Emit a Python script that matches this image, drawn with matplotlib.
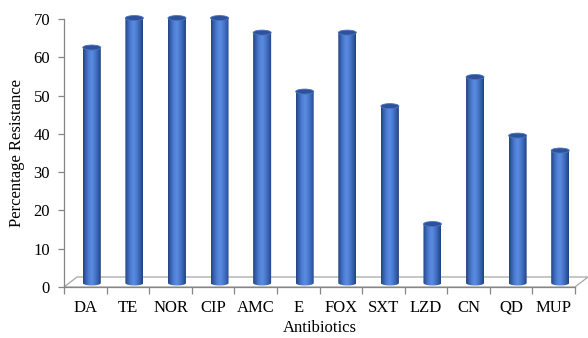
import numpy as np
import matplotlib
matplotlib.use("Agg")
import matplotlib.pyplot as plt
from matplotlib.patches import Polygon, Ellipse, PathPatch
from matplotlib.path import Path
from matplotlib.colors import LinearSegmentedColormap

categories = ["DA", "TE", "NOR", "CIP", "AMC", "E", "FOX", "SXT", "LZD", "CN", "QD", "MUP"]
values = [61.5, 69.2, 69.2, 69.2, 65.4, 50.0, 65.4, 46.2, 15.4, 53.8, 38.5, 34.6]
yticks = [0, 10, 20, 30, 40, 50, 60, 70]

plt.rcParams['font.family'] = ['Liberation Serif', 'DejaVu Serif']
FS = 12

W, H = 588, 338
fig = plt.figure(figsize=(W / 100, H / 100), dpi=100)
left, right, top, bottom = 64, 575, 19, 287
ax = fig.add_axes([left / W, 1 - bottom / H, (right - left) / W, (bottom - top) / H])
n = len(categories)
ax.set_xlim(-0.5, n - 0.5)
ax.set_ylim(0, 70)

pxx = (right - left) / n          # px per category
pxy = (bottom - top) / 70         # px per unit

# 3D depth offsets
dx_floor, dy_floor = 13 / pxx, 10 / pxy
bar_dx, bar_dy = 6.5 / pxx, 4 / pxy
bw = 18 / pxx
eh = 5 / pxy

# floor
floor = Polygon([(-0.5, 0), (n - 0.5, 0), (n - 0.5 + dx_floor, dy_floor), (-0.5 + dx_floor, dy_floor)],
                closed=True, facecolor="white", edgecolor="#A6A6A6", lw=0.9, clip_on=False, zorder=1)
ax.add_patch(floor)

cmap = LinearSegmentedColormap.from_list("cyl", ["#24427F", "#3A64B4", "#4F80D6", "#5A8CE0", "#4A78CC", "#3560AE", "#22407C"])
grad = np.linspace(0, 1, 200).reshape(1, -1)

x = np.arange(n)
for xi, v in zip(x, values):
    xc = xi + bar_dx
    b = bar_dy
    t = b + v
    x0, x1 = xc - bw / 2, xc + bw / 2
    tt = np.linspace(np.pi, 2 * np.pi, 40)
    arc = np.column_stack([xc + bw / 2 * np.cos(tt), b + eh / 2 * np.sin(tt)])
    verts = np.vstack([[x0, t], [x0, b], arc[1:-1], [x1, b], [x1, t], [x0, t]])
    codes = [Path.MOVETO] + [Path.LINETO] * (len(verts) - 2) + [Path.CLOSEPOLY]
    path = Path(verts, codes)
    pp = PathPatch(path, facecolor="none", edgecolor="none", zorder=3, clip_on=False)
    ax.add_patch(pp)
    im = ax.imshow(grad, cmap=cmap, extent=(x0, x1, b - eh, t), aspect="auto", zorder=3, interpolation="bilinear")
    im.set_clip_box(fig.bbox)
    im.set_clip_path(pp)
    ax.add_patch(Ellipse((xc, t), bw, eh, facecolor="#2D5299", edgecolor="#4A74C2", lw=0.6, zorder=4, clip_on=False))

ax.set_aspect("auto")
ax.set_xlim(-0.5, n - 0.5)
ax.set_ylim(0, 70)

for s in ["top", "right"]:
    ax.spines[s].set_visible(False)
for s in ["left", "bottom"]:
    ax.spines[s].set_color("#868686")
    ax.spines[s].set_linewidth(0.9)

ax.set_yticks(yticks)
ax.set_yticklabels([str(v) for v in yticks], fontsize=FS)
ax.set_xticks(x)
ax.set_xticklabels(categories, fontsize=FS)
ax.set_xticks(np.arange(-0.5, n, 1), minor=True)
ax.tick_params(axis="x", which="major", length=0, pad=9)
ax.tick_params(axis="x", which="minor", length=5, color="#868686", width=0.9)
ax.tick_params(axis="y", length=4, color="#868686", width=0.9, pad=6)

ax.set_ylabel("Percentage Resistance", fontsize=FS, labelpad=6)
ax.set_xlabel("Antibiotics", fontsize=FS, labelpad=3.5)

fig.savefig("out.png", dpi=100)
